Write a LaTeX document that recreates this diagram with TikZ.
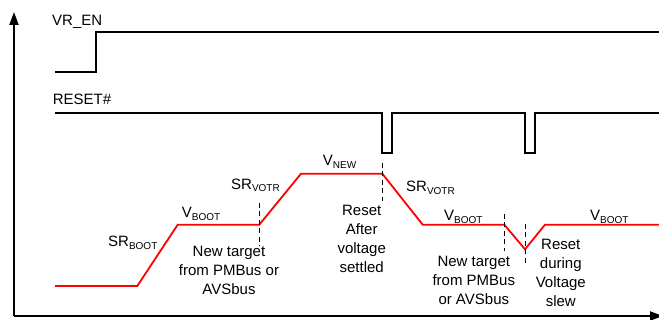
\documentclass[tikz,border=0pt]{standalone}
\usepackage{fontspec}
\setmainfont{Liberation Sans}
\usetikzlibrary{arrows.meta}
\newcommand\subs[1]{\raisebox{-2.5pt}{\fontsize{10}{12}\selectfont #1}}
\tikzset{
  lbl/.style={font=\fontsize{15}{19}\selectfont, inner sep=0pt, anchor=base west},
  ctext/.style={font=\fontsize{15}{19}\selectfont, inner sep=0pt, align=center, anchor=base},
  sig/.style={line width=1.8pt, black},
  volt/.style={line width=1.8pt, red},
  mark line/.style={line width=1pt, black, dash pattern=on 5pt off 3.5pt},
  axis/.style={line width=1.9pt, black, -{Triangle[length=13pt,width=9pt]}}
}
\begin{document}
\begin{tikzpicture}[x=1pt,y=-1pt]
\useasboundingbox (0,0) rectangle (659,320);
% axes
\coordinate (origin) at (14,316);
\coordinate (ytop) at (14,12);
\coordinate (xend) at (663,316);
\draw[axis] (origin) -- (ytop);
\draw[axis] (origin) -- (xend);
% VR_EN
\node[lbl] (vren) at (52,26) {VR\_EN};
\draw[sig] (55,71.7) -- (96,71.7) -- (96,31.7) -- (660,31.7);
% RESET#
\node[lbl] (reset) at (52.7,105) {RESET\#};
\draw[sig] (55,112.7) -- (381.7,112.7) -- (381.7,153.3) -- (392.3,153.3) -- (392.3,112.7)
  -- (525,112.7) -- (525,153.3) -- (535.3,153.3) -- (535.3,112.7) -- (660,112.7);
% voltage
\draw[volt] (55,286) -- (137.3,286) -- (177.7,224.7) -- (259.3,224.7) -- (301,173.7)
  -- (382.3,173.7) -- (422.7,224.7) -- (504.3,224.7) -- (525,249.3) -- (545,224.7) -- (660,224.7);
% marker lines
\draw[mark line] (259.3,203) -- (259.3,246);
\draw[mark line] (382,163) -- (382,201);
\draw[mark line] (504.3,214) -- (504.3,251);
\draw[mark line] (525,224) -- (525,266);
% labels
\node[lbl] (srboot) at (108,246.7) {SR\subs{BOOT}};
\node[lbl] (vboot1) at (181.7,217.7) {V\subs{BOOT}};
\node[lbl] (srvotr1) at (231,189.3) {SR\subs{VOTR}};
\node[lbl] (vnew) at (322.7,165.7) {V\subs{NEW}};
\node[lbl] (srvotr2) at (406,191.7) {SR\subs{VOTR}};
\node[lbl] (vboot2) at (444,220.7) {V\subs{BOOT}};
\node[lbl] (vboot3) at (590,220.7) {V\subs{BOOT}};
\node[ctext] (nt1) at (229,295) {New target\\from PMBus or\\AVSbus};
\node[ctext] (rs1) at (361.7,273) {Reset\\After\\voltage\\settled};
\node[ctext] (nt2) at (473.8,305) {New target\\from PMBus\\or AVSbus};
\node[ctext] (rs2) at (560.8,307) {Reset\\during\\Voltage\\slew};
\end{tikzpicture}
\end{document}
